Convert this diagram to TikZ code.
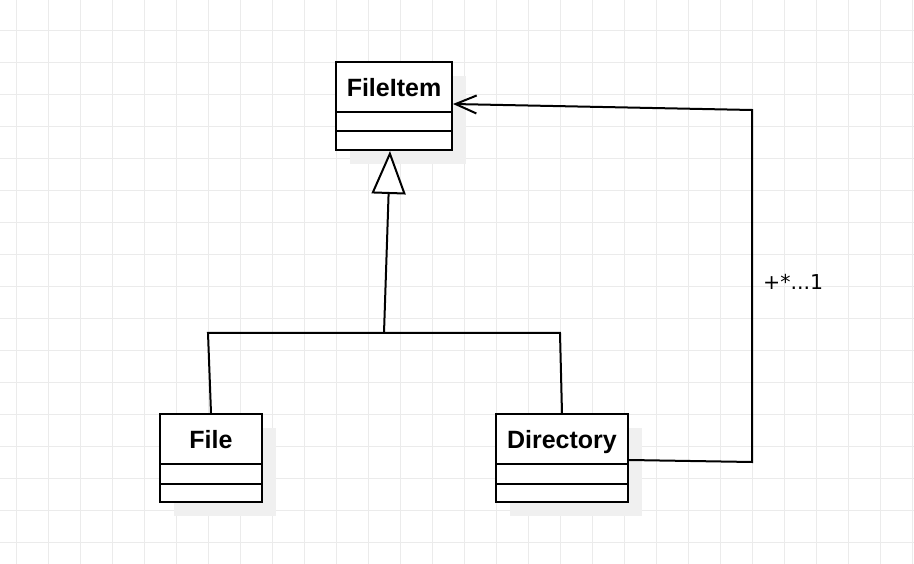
\documentclass[tikz,border=0pt]{standalone}
\usepackage{fontspec}
\setmainfont{DejaVu Sans}
\newfontfamily\namefont{Liberation Sans}
\usetikzlibrary{positioning}
\usetikzlibrary{shadows}
\usetikzlibrary{arrows.meta}

\tikzset{
  classbox/.style={draw, line width=2pt, fill=white, minimum height=88pt, inner sep=0pt,
    drop shadow={shadow xshift=14pt, shadow yshift=-14pt, fill=black!6, opacity=1}},
  classname/.style={font=\namefont\bfseries\fontsize{25}{29}\selectfont, inner sep=0pt, anchor=base},
  link/.style={line width=2pt},
  gridline/.style={draw=black!8, line width=1pt}
}

\begin{document}
\begin{tikzpicture}[x=1pt,y=-1pt]

% background grid
\fill[white] (0,0) rectangle (914,564);
\useasboundingbox (0,0) rectangle (914,564);
\foreach \x in {16,48,...,912} \draw[gridline] (\x,0) -- (\x,564);
\foreach \y in {30.5,62.5,...,542.5} \draw[gridline] (0,\y) -- (914,\y);

% classes
\node[classbox, minimum width=116pt] (fileitem) at (394,106) {};
\node[classname] (fileitemname) at (394,96.5) {FileItem};
\draw[line width=2pt] (fileitem.west |- 0,112) -- (fileitem.east |- 0,112);
\draw[line width=2pt] (fileitem.west |- 0,131) -- (fileitem.east |- 0,131);

\node[classbox, minimum width=102pt] (file) at (211,458) {};
\node[classname] (filename) at (211,448) {File};
\draw[line width=2pt] (file.west |- 0,464) -- (file.east |- 0,464);
\draw[line width=2pt] (file.west |- 0,484) -- (file.east |- 0,484);

\node[classbox, minimum width=132pt] (directory) at (562,458) {};
\node[classname] (directoryname) at (562,448) {Directory};
\draw[line width=2pt] (directory.west |- 0,464) -- (directory.east |- 0,464);
\draw[line width=2pt] (directory.west |- 0,484) -- (directory.east |- 0,484);

% generalisation
\coordinate (split) at (384,333);
\coordinate (leftbend) at (208,333);
\coordinate (rightbend) at (560,333);
\draw[link] (file.north) -- (leftbend) -- (rightbend) -- (directory.north);
\draw[link, -{Triangle[open, length=43pt, width=34pt, fill=white]}] (split) -- ([xshift=-4pt]fileitem.south);

% association
\coordinate (loopbot) at (752,462);
\coordinate (looptop) at (752,110);
\draw[link, -{Straight Barb[length=21pt, width=18pt]}] ([yshift=-2pt]directory.east) -- (loopbot) -- (looptop) -- ([yshift=2pt]fileitem.east);
\node[anchor=base west, inner sep=0pt, font=\fontsize{20.5}{24}\selectfont] (mult) at (763,290) {+*...1};

\end{tikzpicture}
\end{document}
